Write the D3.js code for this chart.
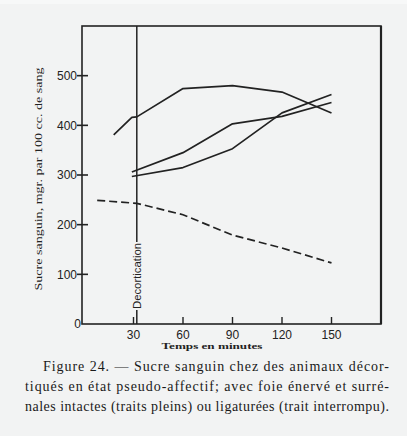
<!DOCTYPE html>
<html><head><meta charset="utf-8">
<script src="https://cdn.jsdelivr.net/npm/d3@7"></script>
<style>html,body{margin:0;padding:0;background:#f2f3f3;}svg{display:block;}</style>
</head><body>
<script>
// ---- data ----
const xTicks = [30, 60, 90, 120, 150];
const yTicks = [100, 200, 300, 400, 500];
const decorticationTime = 32;
// solid lines (surrénales intactes)
const seriesA = [[18, 381], [29, 416], [32, 417], [60, 474], [90, 480], [120, 467], [150, 425]];
const seriesB = [[29, 306], [60, 345], [90, 403], [120, 418], [150, 446]];
const seriesC = [[29, 297], [60, 315], [90, 353], [120, 425], [150, 462]];
// dashed line (surrénales ligaturées)
const seriesD = [[8, 249], [32, 243], [60, 220], [90, 179], [120, 153], [150, 123]];
const captionLines = [
  "Figure 24. — Sucre sanguin chez des animaux décor-",
  "tiqués en état pseudo-affectif; avec foie énervé et surré-",
  "nales intactes (traits pleins) ou ligaturées (trait interrompu)."
];
const yTitle = "Sucre sanguin, mgr. par 100 cc. de sang";
const xTitle = "Temps en minutes";
const decortLabel = "Decortication";

// ---- drawing ----
const W = 407, H = 436;
const svg = d3.select("body").append("svg").attr("width", W).attr("height", H);
svg.append("rect").attr("width", W).attr("height", H).attr("fill", "#f2f3f3");
svg.append("rect").attr("width", W).attr("height", 4).attr("fill", "#f7f8f8");

const x = d3.scaleLinear().domain([0, 180]).range([84, 381]);
const y = d3.scaleLinear().domain([0, 600]).range([324, 26]);
const ink = "#222";

// frame
const fl = x(0) - 2, fr = x(180), ft = y(600), fb = y(0);
svg.append("rect").attr("x", fl).attr("y", ft).attr("width", fr - fl).attr("height", fb - ft)
  .attr("fill", "none").attr("stroke", ink).attr("stroke-width", 1.6);
svg.append("line").attr("x1", fr).attr("x2", fr).attr("y1", ft).attr("y2", fb)
  .attr("stroke", ink).attr("stroke-width", 2.2);

// y ticks
const gy = svg.append("g");
gy.selectAll("line").data(yTicks).join("line")
  .attr("x1", fl - 5).attr("x2", fl + 6).attr("y1", d => y(d)).attr("y2", d => y(d))
  .attr("stroke", ink).attr("stroke-width", 1.6);
gy.selectAll("text").data(yTicks).join("text")
  .attr("x", fl - 5).attr("y", d => y(d)).attr("dy", "0.36em")
  .attr("text-anchor", "end").attr("font-family", "Liberation Sans, Arial, sans-serif")
  .attr("font-size", 12).attr("fill", ink).text(d => d);
svg.append("text").attr("x", fl - 1).attr("y", fb).attr("dy", "0.36em")
  .attr("text-anchor", "end").attr("font-family", "Liberation Sans, Arial, sans-serif")
  .attr("font-size", 12).attr("fill", ink).text("0");

// x ticks
const gx = svg.append("g");
gx.selectAll("line").data(xTicks).join("line")
  .attr("x1", d => x(d)).attr("x2", d => x(d)).attr("y1", fb).attr("y2", fb - 7)
  .attr("stroke", ink).attr("stroke-width", 1.4);
gx.selectAll("text").data(xTicks).join("text")
  .attr("x", d => x(d)).attr("y", fb + 15)
  .attr("text-anchor", "middle").attr("font-family", "Liberation Sans, Arial, sans-serif")
  .attr("font-size", 12).attr("fill", ink).text(d => d);

// titles
svg.append("text").attr("x", 212).attr("y", 349).attr("text-anchor", "middle")
  .attr("font-family", "Liberation Serif, Times New Roman, serif").attr("font-weight", "bold")
  .attr("font-size", 9).attr("fill", ink)
  .attr("textLength", 101).attr("lengthAdjust", "spacingAndGlyphs").text(xTitle);
svg.append("text").attr("transform", "translate(42,179) rotate(-90)").attr("text-anchor", "middle")
  .attr("font-family", "Liberation Serif, Times New Roman, serif")
  .attr("font-size", 10).attr("fill", ink)
  .attr("textLength", 223).attr("lengthAdjust", "spacingAndGlyphs").text(yTitle);

// decortication line
const xd = x(decorticationTime);
svg.append("line").attr("x1", xd).attr("x2", xd).attr("y1", ft).attr("y2", fb)
  .attr("stroke", ink).attr("stroke-width", 1.5);
svg.append("rect").attr("x", xd - 3).attr("y", 242).attr("width", 9).attr("height", 68).attr("fill", "#f2f3f3");
svg.append("text").attr("transform", `translate(${xd + 4},276) rotate(-90)`).attr("text-anchor", "middle")
  .attr("font-family", "Liberation Sans, Arial, sans-serif").attr("font-size", 10).attr("fill", ink)
  .attr("textLength", 66).attr("lengthAdjust", "spacingAndGlyphs").text(decortLabel);

// series
const line = d3.line().x(d => x(d[0])).y(d => y(d[1]));
[seriesA, seriesB, seriesC].forEach(s => {
  svg.append("path").attr("d", line(s)).attr("fill", "none").attr("stroke", ink)
    .attr("stroke-width", 1.7).attr("stroke-linejoin", "round");
});
svg.append("path").attr("d", line(seriesD)).attr("fill", "none").attr("stroke", ink)
  .attr("stroke-width", 1.7).attr("stroke-dasharray", "8,4");

// caption
const capX = [[43, 389], [25, 389], [25, 389]];
const capY = [371, 391, 411];
svg.append("g").selectAll("text").data(captionLines).join("text")
  .attr("x", (d, i) => capX[i][0]).attr("y", (d, i) => capY[i])
  .attr("font-family", "Liberation Serif, Times New Roman, serif").attr("font-size", 14)
  .attr("fill", "#1a1a1a")
  .attr("textLength", (d, i) => capX[i][1] - capX[i][0]).attr("lengthAdjust", "spacing")
  .text(d => d);
</script>
</body></html>
